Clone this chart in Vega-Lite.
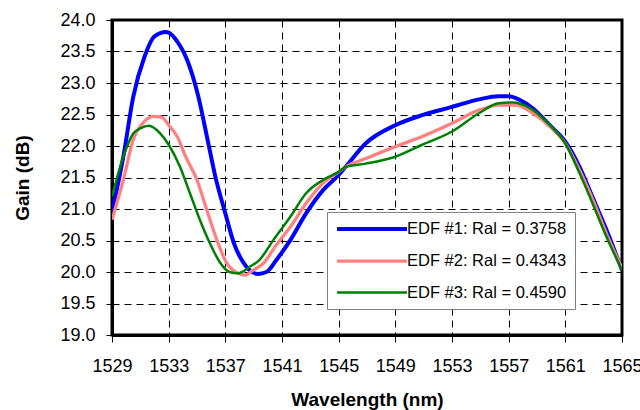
{
  "$schema": "https://vega.github.io/schema/vega-lite/v6.json",
  "width": 510,
  "height": 315,
  "autosize": {"type": "none"},
  "padding": {"left": 112, "top": 20, "right": 18, "bottom": 75},
  "background": "white",
  "config": {
    "view": {"stroke": "black", "strokeWidth": 3},
    "font": "Liberation Sans",
    "axis": {
      "domainColor": "black", "domainWidth": 3,
      "tickColor": "black", "tickWidth": 1, "tickSize": 7,
      "gridColor": "black", "gridWidth": 1, "gridDash": [7, 5], "gridOpacity": 1,
      "labelFont": "Liberation Sans", "labelFontSize": 18, "labelColor": "black",
      "titleFont": "Liberation Sans", "titleFontSize": 19, "titleFontWeight": "bold", "titleColor": "black"
    }
  },
  "data": {"values": [
    {"s": "EDF #1: Ral = 0.3758", "x": 1529.0, "y": 20.95},
    {"s": "EDF #1: Ral = 0.3758", "x": 1529.8, "y": 21.83},
    {"s": "EDF #1: Ral = 0.3758", "x": 1530.5, "y": 22.78},
    {"s": "EDF #1: Ral = 0.3758", "x": 1531.3, "y": 23.42},
    {"s": "EDF #1: Ral = 0.3758", "x": 1532.0, "y": 23.74},
    {"s": "EDF #1: Ral = 0.3758", "x": 1532.8, "y": 23.81},
    {"s": "EDF #1: Ral = 0.3758", "x": 1533.0, "y": 23.8},
    {"s": "EDF #1: Ral = 0.3758", "x": 1533.6, "y": 23.66},
    {"s": "EDF #1: Ral = 0.3758", "x": 1534.4, "y": 23.31},
    {"s": "EDF #1: Ral = 0.3758", "x": 1535.1, "y": 22.78},
    {"s": "EDF #1: Ral = 0.3758", "x": 1535.7, "y": 22.15},
    {"s": "EDF #1: Ral = 0.3758", "x": 1536.3, "y": 21.51},
    {"s": "EDF #1: Ral = 0.3758", "x": 1537.0, "y": 20.93},
    {"s": "EDF #1: Ral = 0.3758", "x": 1537.6, "y": 20.46},
    {"s": "EDF #1: Ral = 0.3758", "x": 1538.3, "y": 20.14},
    {"s": "EDF #1: Ral = 0.3758", "x": 1538.7, "y": 20.03},
    {"s": "EDF #1: Ral = 0.3758", "x": 1539.3, "y": 19.97},
    {"s": "EDF #1: Ral = 0.3758", "x": 1539.9, "y": 20.0},
    {"s": "EDF #1: Ral = 0.3758", "x": 1540.6, "y": 20.19},
    {"s": "EDF #1: Ral = 0.3758", "x": 1541.6, "y": 20.51},
    {"s": "EDF #1: Ral = 0.3758", "x": 1542.7, "y": 20.93},
    {"s": "EDF #1: Ral = 0.3758", "x": 1543.9, "y": 21.3},
    {"s": "EDF #1: Ral = 0.3758", "x": 1545.0, "y": 21.54},
    {"s": "EDF #1: Ral = 0.3758", "x": 1545.5, "y": 21.67},
    {"s": "EDF #1: Ral = 0.3758", "x": 1546.9, "y": 22.04},
    {"s": "EDF #1: Ral = 0.3758", "x": 1549.0, "y": 22.33},
    {"s": "EDF #1: Ral = 0.3758", "x": 1550.9, "y": 22.49},
    {"s": "EDF #1: Ral = 0.3758", "x": 1553.0, "y": 22.62},
    {"s": "EDF #1: Ral = 0.3758", "x": 1554.9, "y": 22.74},
    {"s": "EDF #1: Ral = 0.3758", "x": 1556.3, "y": 22.79},
    {"s": "EDF #1: Ral = 0.3758", "x": 1557.0, "y": 22.79},
    {"s": "EDF #1: Ral = 0.3758", "x": 1557.8, "y": 22.73},
    {"s": "EDF #1: Ral = 0.3758", "x": 1558.7, "y": 22.6},
    {"s": "EDF #1: Ral = 0.3758", "x": 1559.9, "y": 22.33},
    {"s": "EDF #1: Ral = 0.3758", "x": 1561.0, "y": 22.07},
    {"s": "EDF #1: Ral = 0.3758", "x": 1562.0, "y": 21.67},
    {"s": "EDF #1: Ral = 0.3758", "x": 1562.9, "y": 21.2},
    {"s": "EDF #1: Ral = 0.3758", "x": 1563.9, "y": 20.67},
    {"s": "EDF #1: Ral = 0.3758", "x": 1565.0, "y": 20.03},

    {"s": "EDF #2: Ral = 0.4343", "x": 1529.0, "y": 20.83},
    {"s": "EDF #2: Ral = 0.4343", "x": 1529.8, "y": 21.46},
    {"s": "EDF #2: Ral = 0.4343", "x": 1530.5, "y": 22.1},
    {"s": "EDF #2: Ral = 0.4343", "x": 1531.3, "y": 22.39},
    {"s": "EDF #2: Ral = 0.4343", "x": 1531.9, "y": 22.47},
    {"s": "EDF #2: Ral = 0.4343", "x": 1532.5, "y": 22.46},
    {"s": "EDF #2: Ral = 0.4343", "x": 1533.0, "y": 22.33},
    {"s": "EDF #2: Ral = 0.4343", "x": 1533.6, "y": 22.15},
    {"s": "EDF #2: Ral = 0.4343", "x": 1534.2, "y": 21.83},
    {"s": "EDF #2: Ral = 0.4343", "x": 1535.0, "y": 21.46},
    {"s": "EDF #2: Ral = 0.4343", "x": 1535.7, "y": 20.98},
    {"s": "EDF #2: Ral = 0.4343", "x": 1536.4, "y": 20.51},
    {"s": "EDF #2: Ral = 0.4343", "x": 1537.1, "y": 20.14},
    {"s": "EDF #2: Ral = 0.4343", "x": 1537.8, "y": 19.99},
    {"s": "EDF #2: Ral = 0.4343", "x": 1538.4, "y": 19.95},
    {"s": "EDF #2: Ral = 0.4343", "x": 1538.9, "y": 20.02},
    {"s": "EDF #2: Ral = 0.4343", "x": 1539.7, "y": 20.14},
    {"s": "EDF #2: Ral = 0.4343", "x": 1540.6, "y": 20.43},
    {"s": "EDF #2: Ral = 0.4343", "x": 1541.6, "y": 20.72},
    {"s": "EDF #2: Ral = 0.4343", "x": 1542.7, "y": 21.09},
    {"s": "EDF #2: Ral = 0.4343", "x": 1543.9, "y": 21.41},
    {"s": "EDF #2: Ral = 0.4343", "x": 1545.0, "y": 21.59},
    {"s": "EDF #2: Ral = 0.4343", "x": 1545.5, "y": 21.67},
    {"s": "EDF #2: Ral = 0.4343", "x": 1546.9, "y": 21.8},
    {"s": "EDF #2: Ral = 0.4343", "x": 1549.0, "y": 21.99},
    {"s": "EDF #2: Ral = 0.4343", "x": 1550.9, "y": 22.15},
    {"s": "EDF #2: Ral = 0.4343", "x": 1553.0, "y": 22.36},
    {"s": "EDF #2: Ral = 0.4343", "x": 1554.9, "y": 22.57},
    {"s": "EDF #2: Ral = 0.4343", "x": 1556.3, "y": 22.65},
    {"s": "EDF #2: Ral = 0.4343", "x": 1557.5, "y": 22.65},
    {"s": "EDF #2: Ral = 0.4343", "x": 1558.7, "y": 22.52},
    {"s": "EDF #2: Ral = 0.4343", "x": 1559.9, "y": 22.31},
    {"s": "EDF #2: Ral = 0.4343", "x": 1561.0, "y": 22.04},
    {"s": "EDF #2: Ral = 0.4343", "x": 1562.0, "y": 21.62},
    {"s": "EDF #2: Ral = 0.4343", "x": 1562.9, "y": 21.17},
    {"s": "EDF #2: Ral = 0.4343", "x": 1563.9, "y": 20.61},
    {"s": "EDF #2: Ral = 0.4343", "x": 1565.0, "y": 20.06},

    {"s": "EDF #3: Ral = 0.4590", "x": 1529.0, "y": 21.2},
    {"s": "EDF #3: Ral = 0.4590", "x": 1529.8, "y": 21.83},
    {"s": "EDF #3: Ral = 0.4590", "x": 1530.5, "y": 22.2},
    {"s": "EDF #3: Ral = 0.4590", "x": 1531.0, "y": 22.28},
    {"s": "EDF #3: Ral = 0.4590", "x": 1531.6, "y": 22.32},
    {"s": "EDF #3: Ral = 0.4590", "x": 1532.4, "y": 22.2},
    {"s": "EDF #3: Ral = 0.4590", "x": 1533.0, "y": 22.02},
    {"s": "EDF #3: Ral = 0.4590", "x": 1533.8, "y": 21.67},
    {"s": "EDF #3: Ral = 0.4590", "x": 1534.5, "y": 21.25},
    {"s": "EDF #3: Ral = 0.4590", "x": 1535.2, "y": 20.83},
    {"s": "EDF #3: Ral = 0.4590", "x": 1535.9, "y": 20.46},
    {"s": "EDF #3: Ral = 0.4590", "x": 1536.6, "y": 20.16},
    {"s": "EDF #3: Ral = 0.4590", "x": 1537.3, "y": 20.0},
    {"s": "EDF #3: Ral = 0.4590", "x": 1537.9, "y": 19.98},
    {"s": "EDF #3: Ral = 0.4590", "x": 1538.7, "y": 20.08},
    {"s": "EDF #3: Ral = 0.4590", "x": 1539.4, "y": 20.19},
    {"s": "EDF #3: Ral = 0.4590", "x": 1540.4, "y": 20.51},
    {"s": "EDF #3: Ral = 0.4590", "x": 1541.6, "y": 20.88},
    {"s": "EDF #3: Ral = 0.4590", "x": 1542.7, "y": 21.25},
    {"s": "EDF #3: Ral = 0.4590", "x": 1543.9, "y": 21.46},
    {"s": "EDF #3: Ral = 0.4590", "x": 1545.0, "y": 21.59},
    {"s": "EDF #3: Ral = 0.4590", "x": 1545.5, "y": 21.67},
    {"s": "EDF #3: Ral = 0.4590", "x": 1546.9, "y": 21.72},
    {"s": "EDF #3: Ral = 0.4590", "x": 1549.0, "y": 21.83},
    {"s": "EDF #3: Ral = 0.4590", "x": 1550.9, "y": 22.02},
    {"s": "EDF #3: Ral = 0.4590", "x": 1553.0, "y": 22.23},
    {"s": "EDF #3: Ral = 0.4590", "x": 1554.9, "y": 22.52},
    {"s": "EDF #3: Ral = 0.4590", "x": 1556.3, "y": 22.68},
    {"s": "EDF #3: Ral = 0.4590", "x": 1557.3, "y": 22.69},
    {"s": "EDF #3: Ral = 0.4590", "x": 1558.5, "y": 22.6},
    {"s": "EDF #3: Ral = 0.4590", "x": 1559.9, "y": 22.33},
    {"s": "EDF #3: Ral = 0.4590", "x": 1561.0, "y": 22.04},
    {"s": "EDF #3: Ral = 0.4590", "x": 1562.0, "y": 21.57},
    {"s": "EDF #3: Ral = 0.4590", "x": 1562.9, "y": 21.1},
    {"s": "EDF #3: Ral = 0.4590", "x": 1563.9, "y": 20.56},
    {"s": "EDF #3: Ral = 0.4590", "x": 1565.0, "y": 20.03}
  ]},
  "mark": {"type": "line", "interpolate": "monotone", "clip": true},
  "encoding": {
    "x": {
      "field": "x", "type": "quantitative",
      "scale": {"domain": [1529, 1565], "nice": false, "zero": false},
      "axis": {
        "title": "Wavelength (nm)",
        "values": [1529, 1533, 1537, 1541, 1545, 1549, 1553, 1557, 1561, 1565],
        "format": "d", "labelFlush": false, "labelOverlap": false,
        "labelPadding": 15, "titlePadding": 15, "tickSize": 7
      }
    },
    "y": {
      "field": "y", "type": "quantitative",
      "scale": {"domain": [19, 24], "nice": false, "zero": false},
      "axis": {
        "title": "Gain (dB)",
        "values": [19, 19.5, 20, 20.5, 21, 21.5, 22, 22.5, 23, 23.5, 24],
        "format": ".1f", "labelFlush": false, "labelOverlap": false,
        "labelPadding": 11, "titlePadding": 27, "tickSize": 6
      }
    },
    "color": {
      "field": "s", "type": "nominal",
      "scale": {"domain": ["EDF #1: Ral = 0.3758", "EDF #2: Ral = 0.4343", "EDF #3: Ral = 0.4590"], "range": ["#0000FF", "#FF8080", "#008000"]},
      "legend": {
        "title": null, "orient": "none", "legendX": 215, "legendY": 192,
        "symbolType": "M-1,0H9", "symbolSize": 196,
        "labelFont": "Liberation Sans", "labelFontSize": 16.5, "labelColor": "black", "labelLimit": 400,
        "labelOffset": 54, "rowPadding": 14, "padding": 8,
        "strokeColor": "#808080", "fillColor": "white"
      }
    },
    "strokeWidth": {
      "field": "s", "type": "nominal",
      "scale": {"domain": ["EDF #1: Ral = 0.3758", "EDF #2: Ral = 0.4343", "EDF #3: Ral = 0.4590"], "range": [4, 2.5, 1.8]},
      "legend": {
        "title": null, "orient": "none", "legendX": 215, "legendY": 192,
        "symbolType": "M-1,0H9", "symbolSize": 196,
        "labelFont": "Liberation Sans", "labelFontSize": 16.5, "labelColor": "black", "labelLimit": 400,
        "labelOffset": 54, "rowPadding": 14, "padding": 8,
        "strokeColor": "#808080", "fillColor": "white"
      }
    }
  }
}
